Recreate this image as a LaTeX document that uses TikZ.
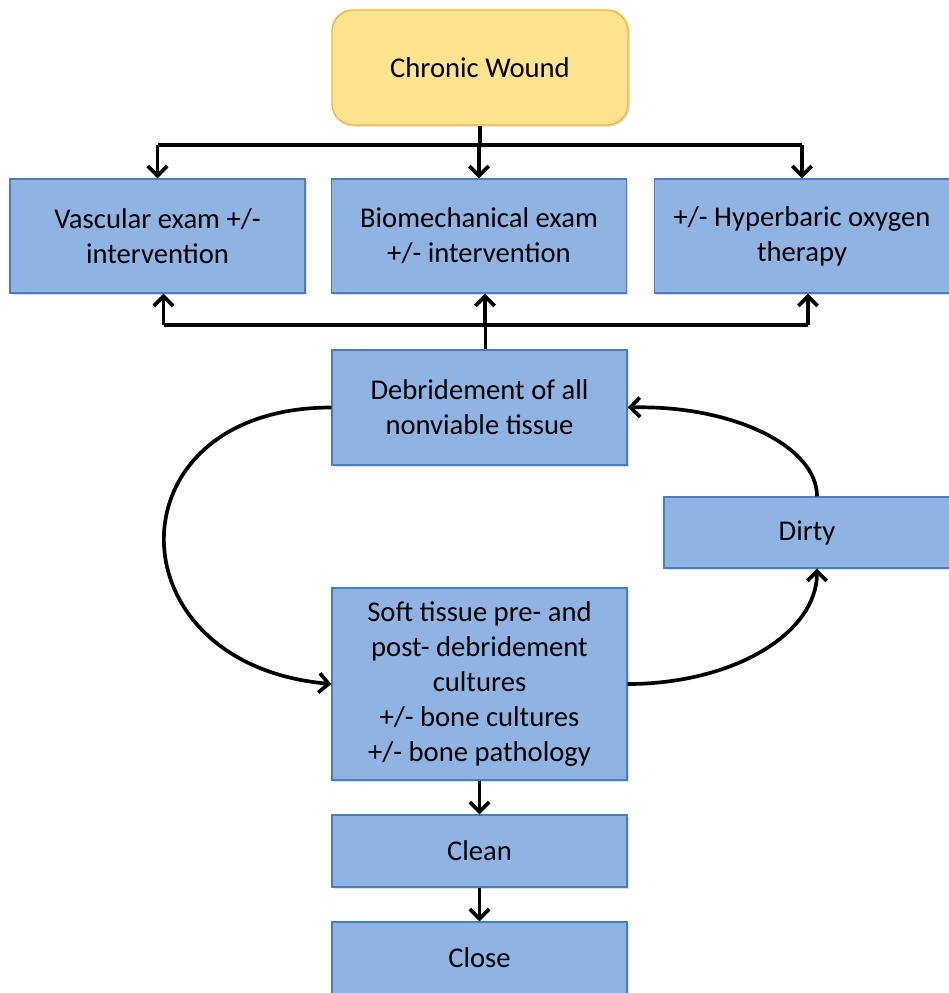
\documentclass[tikz,border=0pt]{standalone}
\usepackage{fontspec}
\setmainfont{Carlito}
\usetikzlibrary{arrows.meta,shadows}
\definecolor{boxblue}{HTML}{8FB4E3}
\definecolor{edgeblue}{HTML}{4A7EBB}
\definecolor{woundfill}{HTML}{FFE38E}
\definecolor{woundedge}{HTML}{F5B43B}

\begin{document}
\begin{tikzpicture}[>={Straight Barb[length=5.5pt,width=11pt]},
  stepbox/.style={draw=edgeblue,fill=boxblue,line width=0.8pt,minimum width=5.9cm,
    align=center,font=\fontsize{16.3}{20}\selectfont,
    drop shadow={shadow xshift=1pt,shadow yshift=-1pt,opacity=0.25}},
  link/.style={line width=2.1pt}]
 \useasboundingbox (0,0) rectangle (18.96,-19.86);
 \node[draw=woundedge,fill=woundfill,line width=0.8pt,rounded corners=12pt,
   minimum width=5.92cm,minimum height=2.3cm,font=\fontsize{16.3}{20}\selectfont,
   drop shadow={shadow xshift=1pt,shadow yshift=-1pt,opacity=0.25}]
   (wound) at (9.6,-1.35) {Chronic Wound};
 \node[stepbox,minimum height=2.28cm] (vasc) at (3.15,-4.72) {Vascular exam +/-\\intervention};
 \node[stepbox,minimum height=2.28cm] (bio) at (9.58,-4.72) {Biomechanical exam\\+/- intervention};
 \node[stepbox,minimum height=2.28cm] (hyper) at (16.04,-4.72) {+/- Hyperbaric oxygen\\therapy};
 \node[stepbox,minimum height=2.3cm] (debr) at (9.59,-8.15) {Debridement of all\\nonviable tissue};
 \node[stepbox,minimum width=5.72cm,minimum height=1.42cm] (dirty) at (16.14,-10.65) {Dirty};
 \node[stepbox,minimum height=3.84cm] (soft) at (9.59,-13.68)
   {Soft tissue pre- and\\post- debridement\\cultures\\+/- bone cultures\\+/- bone pathology};
 \node[stepbox,minimum height=1.44cm] (clean) at (9.59,-17.02) {Clean};
 \node[stepbox,minimum height=1.44cm] (close) at (9.59,-19.16) {Close};

 \coordinate (topbus) at (0,-2.9);
 \coordinate (lowbus) at (0,-6.5);
 \draw[link] (wound.south) -- (wound.south |- topbus);
 \draw[link] (vasc.north |- topbus) -- (hyper.north |- topbus);
 \foreach \n in {vasc,bio,hyper}
  \draw[link,->] (\n.north |- topbus) -- (\n.north);
 \draw[link] ([xshift=1.2mm]debr.north) -- ([xshift=1.2mm]debr.north |- lowbus);
 \draw[link] ([xshift=1.2mm]vasc.south |- lowbus) -- ([xshift=1.2mm]hyper.south |- lowbus);
 \foreach \n in {vasc,bio,hyper}
  \draw[link,->] ([xshift=1.2mm]\n.south |- lowbus) -- ([xshift=1.2mm]\n.south);

 \draw[link,->] (debr.west) .. controls +(-4.45,0) and +(-4.45,0.4) .. (soft.west);
 \draw[link,->] (soft.east) .. controls +(2.1,0) and +(0,-1.3) .. ([xshift=2mm]dirty.south);
 \draw[link,->] ([xshift=2mm]dirty.north) .. controls +(0,1.0) and +(2.1,0.05) .. (debr.east);
 \draw[link,->] (soft) -- (clean);
 \draw[link,->] (clean) -- (close);
\end{tikzpicture}
\end{document}
